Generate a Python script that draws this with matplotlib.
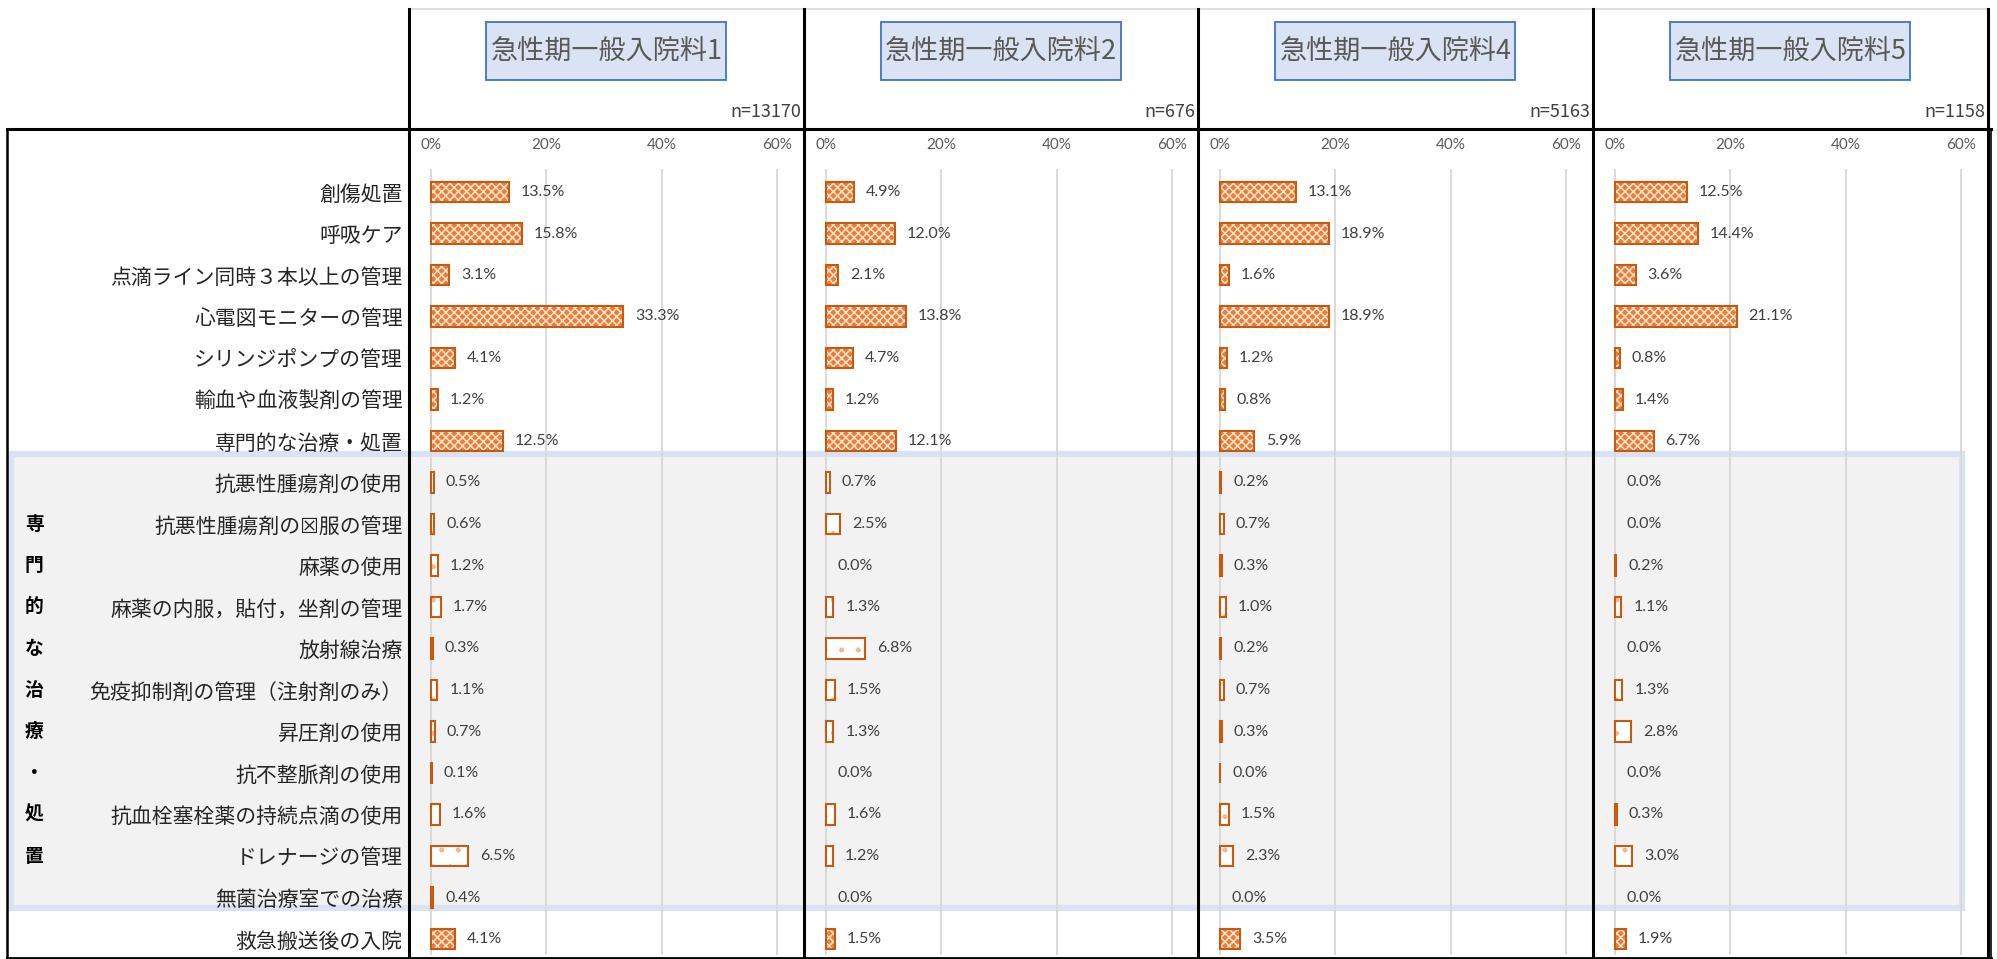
import matplotlib.pyplot as plt
from matplotlib.patches import Rectangle
from matplotlib.transforms import blended_transform_factory

plt.rcParams['font.family'] = ['Noto Sans CJK JP', 'DejaVu Sans']
plt.rcParams['hatch.linewidth'] = 1.1

# data (percent), one list per ward type
wards = ["急性期一般入院料1", "急性期一般入院料2", "急性期一般入院料4", "急性期一般入院料5"]
n_counts = [13170, 676, 5163, 1158]

items = [
    "創傷処置", "呼吸ケア", "点滴ライン同時３本以上の管理", "心電図モニターの管理",
    "シリンジポンプの管理", "輸血や血液製剤の管理", "専門的な治療・処置",
    "抗悪性腫瘍剤の使用", "抗悪性腫瘍剤の☒服の管理", "麻薬の使用",
    "麻薬の内服，貼付，坐剤の管理", "放射線治療", "免疫抑制剤の管理（注射剤のみ）",
    "昇圧剤の使用", "抗不整脈剤の使用", "抗血栓塞栓薬の持続点滴の使用",
    "ドレナージの管理", "無菌治療室での治療", "救急搬送後の入院",
]
ryo1 = [13.5, 15.8, 3.1, 33.3, 4.1, 1.2, 12.5, 0.5, 0.6, 1.2, 1.7, 0.3, 1.1, 0.7, 0.1, 1.6, 6.5, 0.4, 4.1]
ryo2 = [4.9, 12.0, 2.1, 13.8, 4.7, 1.2, 12.1, 0.7, 2.5, 0.0, 1.3, 6.8, 1.5, 1.3, 0.0, 1.6, 1.2, 0.0, 1.5]
ryo4 = [13.1, 18.9, 1.6, 18.9, 1.2, 0.8, 5.9, 0.2, 0.7, 0.3, 1.0, 0.2, 0.7, 0.3, 0.04, 1.5, 2.3, 0.0, 3.5]
ryo5 = [12.5, 14.4, 3.6, 21.1, 0.8, 1.4, 6.7, 0.0, 0.0, 0.2, 1.1, 0.0, 1.3, 2.8, 0.0, 0.3, 3.0, 0.0, 1.9]
series = [ryo1, ryo2, ryo4, ryo5]

sub_rows = list(range(7, 18))      # breakdown of 専門的な治療・処置
group_label = "専門的な治療・処置"
ticks = [0, 20, 40, 60]

W, H = 1997, 959
fig = plt.figure(figsize=(W / 100, H / 100), dpi=100)

# background layer in pixel units for the table frame
bg = fig.add_axes([0, 0, 1, 1])
bg.set_xlim(0, W)
bg.set_ylim(H, 0)
bg.axis('off')

borders = [409, 804, 1198, 1593, 1988]
top_y, bot_y = 129, 955
row0, pitch = 192, 41.5
px = 346 / 60.0

# shaded block behind the breakdown rows
bg.add_patch(Rectangle((11, 454), 1951, 454, facecolor='#f2f2f2',
                       edgecolor='#dae3f3', lw=4.5, zorder=0))

# frame lines
bg.plot([409, 1988], [9, 9], color='#d9d9d9', lw=1.2)
bg.plot([7, 1991], [top_y, top_y], color='black', lw=2.2)
bg.plot([7, 1991], [958, 958], color='black', lw=2)
bg.plot([7, 7], [top_y, 958], color='black', lw=1.8)
for b in borders:
    bg.plot([b, b], [9, 958], color='black', lw=2.2)
bg.plot([1991, 1991], [top_y, 958], color='black', lw=1.2)

axes = []
for i, vals in enumerate(series):
    L, R = borders[i], borders[i + 1]
    cx = (L + R) / 2
    # header: title box and n
    bg.add_patch(Rectangle((cx - 120, 22), 240, 58, facecolor='#dae3f3',
                           edgecolor='#4472c4', lw=1.3))
    bg.text(cx, 52, wards[i], ha='center', va='center', fontsize=19.5, color='#595959')
    bg.text(R - 3, 112, f"n={n_counts[i]}", ha='right', va='center',
            fontsize=13, color='#404040')

    ax = fig.add_axes([L / W, 1 - bot_y / H, (R - L) / W, (bot_y - top_y) / H])
    ax.set_facecolor('none')
    ax.set_xlim(-22 / px, (R - L - 22) / px)
    ax.set_ylim((bot_y - row0) / pitch, (top_y - row0) / pitch)
    for s in ax.spines.values():
        s.set_visible(False)
    ax.set_xticks([])
    ax.tick_params(axis='y', length=0, pad=4.5)

    ax.vlines(ticks, (169 - row0) / pitch, (bot_y - row0) / pitch,
              color='#d9d9d9', lw=1.4, zorder=1)
    for t in ticks:
        ax.text(t, (145 - row0) / pitch, f"{t}%", ha='center', va='center',
                fontsize=11, color='#595959', family=['Lato', 'DejaVu Sans'])

    for r, v in enumerate(vals):
        if r in sub_rows:
            if v > 0:
                ax.barh(r, v, height=0.5, color='white', edgecolor='#f6b58c',
                        hatch='.', lw=0, zorder=2)
                ax.barh(r, v, height=0.5, fill=False, edgecolor='#c55a11',
                        lw=1.5, zorder=3)
        else:
            ax.barh(r, v, height=0.5, color='#ed7d31', edgecolor='#fce4d6',
                    hatch='xxxx', lw=0, zorder=2)
            ax.barh(r, v, height=0.5, fill=False, edgecolor='#c55a11',
                    lw=1.5, zorder=3)
        ax.annotate(f"{v:.1f}%", xy=(v, r), xytext=(8.6, 0), textcoords='offset points',
                    ha='left', va='center', fontsize=11.5, color='#404040',
                    family=['Lato', 'DejaVu Sans'])

    if i == 0:
        ax.set_yticks(range(len(items)))
        ax.set_yticklabels(items, fontsize=15, color='#262626')
    else:
        ax.set_yticks([])
    axes.append(ax)

# vertical group caption
tr = blended_transform_factory(fig.transFigure, axes[0].transData)
for k, ch in enumerate(group_label):
    axes[0].text(34 / W, 8 + k, ch, transform=tr, ha='center', va='center',
                 fontsize=13.5, fontweight='bold', color='black')

plt.savefig("out.png", dpi=100)
